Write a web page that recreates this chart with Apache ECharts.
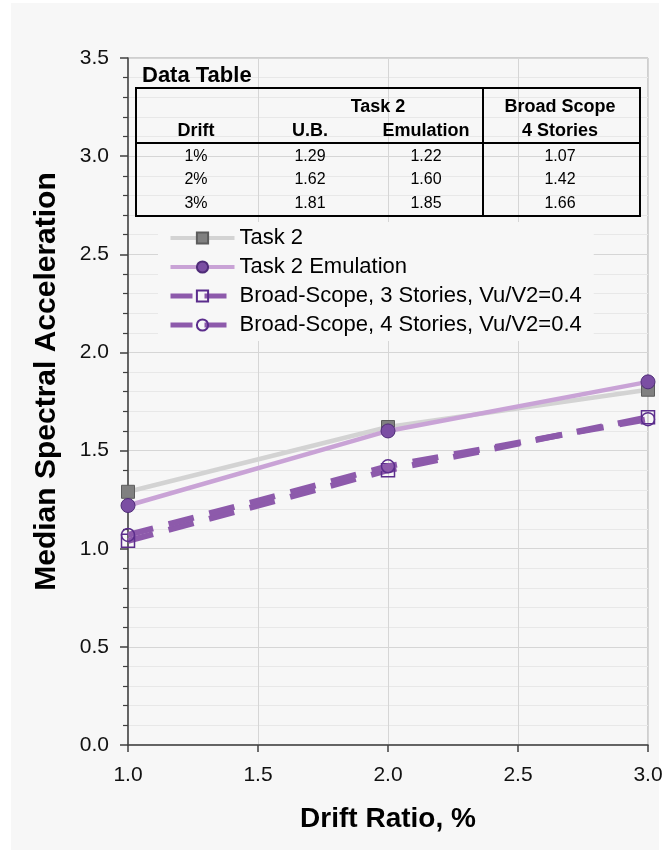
<!DOCTYPE html>
<html><head><meta charset="utf-8">
<script src="https://cdn.jsdelivr.net/npm/echarts@6/dist/echarts.min.js"></script>
<style>html,body{margin:0;padding:0;background:#fff}#c{width:670px;height:857px}</style>
</head><body><div id="c"></div>
<script>
// ---- data ----
const drift = [1, 2, 3];
const driftLabels = ['1%', '2%', '3%'];
const task2UB = [1.29, 1.62, 1.81];
const task2Emu = [1.22, 1.60, 1.85];
const bs3 = [1.04, 1.40, 1.67];
const bs4 = [1.07, 1.42, 1.66];
const seriesNames = ['Task 2', 'Task 2 Emulation', 'Broad-Scope, 3 Stories, Vu/V2=0.4', 'Broad-Scope, 4 Stories, Vu/V2=0.4'];
const xTitle = 'Drift Ratio, %';
const yTitle = 'Median Spectral Acceleration';

const FONT = '"Liberation Sans", Arial, sans-serif';
const pairs = (ys) => drift.map((x, i) => [x, ys[i]]);

// ---- styles ----
const sty = [
  { symbol: 'rect', symbolSize: 13, line: { color: '#d3d3d3', width: 4.5 }, item: { color: '#808080', borderColor: '#5c5c5c', borderWidth: 1 } },
  { symbol: 'circle', symbolSize: 14, line: { color: '#c9a3d6', width: 4.5 }, item: { color: '#7b4ea3', borderColor: '#4f2c78', borderWidth: 1 } },
  { symbol: 'rect', symbolSize: 13, line: { color: '#8d5aab', width: 6, type: [26, 16] }, item: { color: 'rgba(247,247,247,0)', borderColor: '#5b2d8c', borderWidth: 1.5 } },
  { symbol: 'circle', symbolSize: 13, line: { color: '#8d5aab', width: 6, type: [26, 16] }, item: { color: 'rgba(247,247,247,0)', borderColor: '#5b2d8c', borderWidth: 1.5 } }
];

// ---- data table graphic ----
const tL = 136, tR = 640, tT = 88, tB = 216, tSep = 143, tDiv = 483;
const colX = [196, 310, 426, 560];
const rowY = [157, 180, 204];
const txt = (x, y, s, size, bold, align) => ({
  type: 'text', x: x, y: y, z: 100,
  style: { text: s, fontSize: size, fontWeight: bold ? 'bold' : 'normal', fontFamily: FONT,
           fill: '#000', align: align || 'center', verticalAlign: 'middle' }
});
const tableChildren = [
  { type: 'rect', z: 100, shape: { x: tL, y: tT, width: tR - tL, height: tB - tT }, style: { fill: 'none', stroke: '#000', lineWidth: 2 } },
  { type: 'line', z: 100, shape: { x1: tL, y1: tSep, x2: tR, y2: tSep }, style: { stroke: '#000', lineWidth: 2 } },
  { type: 'line', z: 100, shape: { x1: tDiv, y1: tT, x2: tDiv, y2: tB }, style: { stroke: '#000', lineWidth: 2 } },
  txt(142, 76, 'Data Table', 22, true, 'left'),
  txt(378, 107, 'Task 2', 18, true),
  txt(560, 107, 'Broad Scope', 18, true),
  txt(colX[0], 131, 'Drift', 18, true),
  txt(colX[1], 131, 'U.B.', 18, true),
  txt(colX[2], 131, 'Emulation', 18, true),
  txt(colX[3], 131, '4 Stories', 18, true)
];
drift.forEach((d, i) => {
  tableChildren.push(txt(colX[0], rowY[i], driftLabels[i], 16, false));
  tableChildren.push(txt(colX[1], rowY[i], task2UB[i].toFixed(2), 16, false));
  tableChildren.push(txt(colX[2], rowY[i], task2Emu[i].toFixed(2), 16, false));
  tableChildren.push(txt(colX[3], rowY[i], bs4[i].toFixed(2), 16, false));
});

const mk = (name, data, s, z) => ({
  name: name, type: 'line', data: pairs(data), symbol: s.symbol, symbolSize: s.symbolSize,
  lineStyle: s.line, itemStyle: s.item, z: z
});

const chart = echarts.init(document.getElementById('c'), null, { renderer: 'canvas' });
chart.setOption({
  backgroundColor: '#ffffff',
  animation: false,
  textStyle: { fontFamily: FONT },
  graphic: [
    { type: 'rect', z: -100, shape: { x: 11, y: 3, width: 648, height: 847 }, style: { fill: '#f7f7f7' } },
    { type: 'group', z: 100, children: tableChildren }
  ],
  grid: { left: 128, right: 22, top: 58, bottom: 112, show: true, borderColor: '#a6a6a6', borderWidth: 1, backgroundColor: 'transparent' },
  legend: {
    orient: 'vertical', left: 158, top: 222, padding: [5, 12, 5, 10],
    backgroundColor: '#f7f7f7', itemWidth: 64, itemHeight: 14, itemGap: 7,
    textStyle: { fontSize: 22, color: '#000', fontFamily: FONT },
    data: seriesNames.map((n, i) => ({ name: n, lineStyle: Object.assign({}, sty[i].line, { width: i < 2 ? 4 : 5, type: i < 2 ? 'solid' : [22, 12] }) }))
  },
  xAxis: {
    type: 'value', min: 1, max: 3, interval: 0.5,
    name: xTitle, nameLocation: 'middle', nameGap: 60,
    nameTextStyle: { fontSize: 28, fontWeight: 'bold', color: '#000', fontFamily: FONT },
    axisLine: { show: true, onZero: false, lineStyle: { color: '#404040', width: 1.5 } },
    axisTick: { show: true, length: 7, lineStyle: { color: '#404040', width: 1.5 } },
    axisLabel: { fontSize: 21, color: '#111', margin: 20, formatter: (v) => v.toFixed(1) },
    splitLine: { show: true, lineStyle: { color: '#d6d6d6', width: 1 } }
  },
  yAxis: {
    type: 'value', min: 0, max: 3.5, interval: 0.5,
    name: yTitle, nameLocation: 'middle', nameGap: 66,
    nameTextStyle: { fontSize: 30, fontWeight: 'bold', color: '#000', fontFamily: FONT, padding: [0, 0, 0, 40] },
    axisLine: { show: true, onZero: false, lineStyle: { color: '#404040', width: 1.5 } },
    axisTick: { show: true, length: 8, lineStyle: { color: '#404040', width: 1.5 } },
    minorTick: { show: true, splitNumber: 5, length: 5, lineStyle: { color: '#404040', width: 1.2 } },
    minorSplitLine: { show: true, lineStyle: { color: '#e8e8e8', width: 1 } },
    axisLabel: { fontSize: 21, color: '#111', margin: 19, formatter: (v) => v.toFixed(1) },
    splitLine: { show: true, lineStyle: { color: '#d6d6d6', width: 1 } }
  },
  series: [
    mk(seriesNames[0], task2UB, sty[0], 3),
    mk(seriesNames[1], task2Emu, sty[1], 4),
    mk(seriesNames[2], bs3, sty[2], 5),
    mk(seriesNames[3], bs4, sty[3], 6)
  ]
});
</script></body></html>
